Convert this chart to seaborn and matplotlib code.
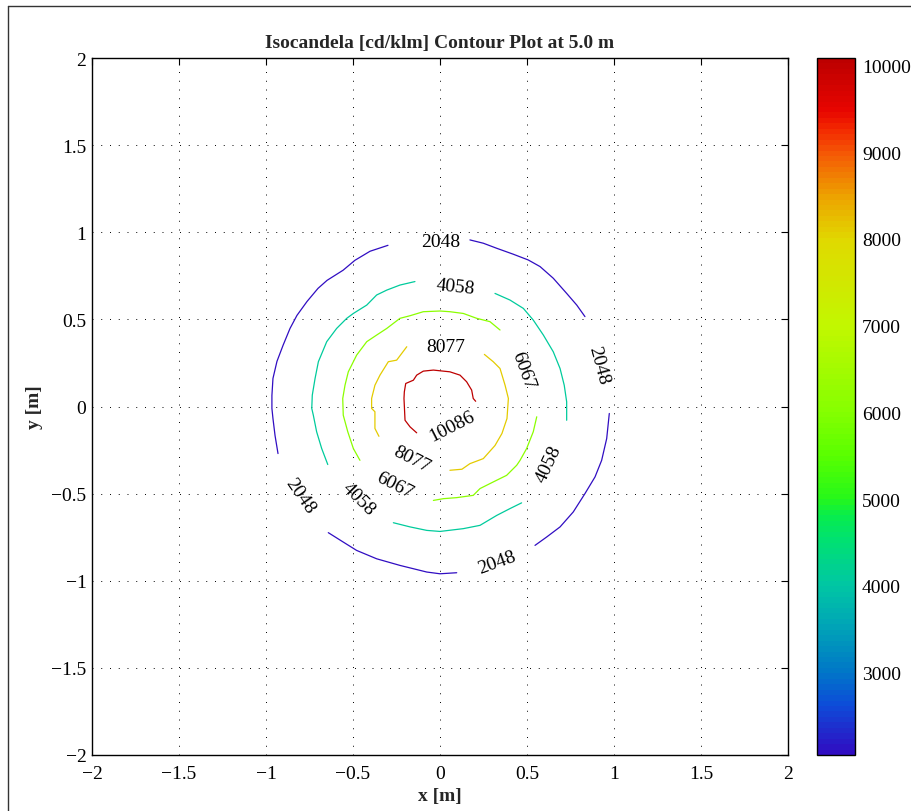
import numpy as np
import matplotlib
matplotlib.use("Agg")
import matplotlib.pyplot as plt
from matplotlib.colors import LinearSegmentedColormap, Normalize
from matplotlib.lines import Line2D
import seaborn as sns

# ---------------- data ----------------
LEVELS = [2048, 4058, 6067, 8077, 10086]
TITLE = "Isocandela [cd/klm] Contour Plot at 5.0 m"
XTICKS = [-2, -1.5, -1, -0.5, 0, 0.5, 1, 1.5, 2]
YTICKS = [-2, -1.5, -1, -0.5, 0, 0.5, 1, 1.5, 2]
CBAR_TICKS = [3000, 4000, 5000, 6000, 7000, 8000, 9000, 10000]

# contour segments (x, y) per level
SEG_2048 = [
    [(-0.299, 0.925), (-0.402, 0.891), (-0.489, 0.839), (-0.557, 0.782), (-0.649, 0.724),
     (-0.701, 0.678), (-0.764, 0.603), (-0.822, 0.523), (-0.862, 0.448), (-0.902, 0.351),
     (-0.937, 0.259), (-0.960, 0.161), (-0.966, 0.063), (-0.966, -0.011), (-0.960, -0.069),
     (-0.948, -0.167), (-0.931, -0.270)],
    [(0.172, 0.956), (0.249, 0.937), (0.326, 0.908), (0.421, 0.874), (0.507, 0.841),
     (0.575, 0.803), (0.651, 0.736), (0.728, 0.649), (0.786, 0.582), (0.833, 0.516)],
    [(0.973, -0.040), (0.958, -0.184), (0.929, -0.309), (0.891, -0.404), (0.833, -0.500),
     (0.766, -0.605), (0.690, -0.691), (0.613, -0.749), (0.546, -0.797)],
    [(0.096, -0.954), (0.000, -0.960), (-0.076, -0.950), (-0.230, -0.912), (-0.364, -0.874),
     (-0.479, -0.826), (-0.556, -0.778), (-0.642, -0.724)],
]
SEG_4058 = [
    [(-0.144, 0.717), (-0.230, 0.697), (-0.306, 0.668), (-0.364, 0.640), (-0.421, 0.582),
     (-0.498, 0.534), (-0.536, 0.506), (-0.594, 0.448), (-0.651, 0.372), (-0.699, 0.257),
     (-0.718, 0.161), (-0.734, 0.065), (-0.737, -0.011), (-0.728, -0.050), (-0.709, -0.145),
     (-0.680, -0.241), (-0.645, -0.333)],
    [(0.316, 0.649), (0.402, 0.611), (0.479, 0.563), (0.536, 0.496), (0.594, 0.410),
     (0.651, 0.314), (0.690, 0.218), (0.714, 0.122), (0.728, 0.027), (0.728, -0.079)],
    [(0.469, -0.553), (0.402, -0.586), (0.326, -0.625), (0.230, -0.682), (0.134, -0.701),
     (0.000, -0.717), (-0.076, -0.711), (-0.172, -0.691), (-0.268, -0.667)],
]
SEG_6067 = [
    [(0.345, 0.439), (0.287, 0.487), (0.211, 0.506), (0.134, 0.534), (0.057, 0.544),
     (0.000, 0.548), (-0.096, 0.544), (-0.172, 0.521), (-0.230, 0.506), (-0.268, 0.477),
     (-0.306, 0.448), (-0.364, 0.410), (-0.421, 0.372), (-0.479, 0.295), (-0.527, 0.199),
     (-0.546, 0.122), (-0.559, 0.046), (-0.556, -0.050), (-0.530, -0.145), (-0.498, -0.241),
     (-0.460, -0.309)],
    [(0.556, -0.059), (0.536, -0.145), (0.498, -0.241), (0.460, -0.309), (0.441, -0.337),
     (0.383, -0.395), (0.306, -0.433), (0.230, -0.471), (0.191, -0.510), (0.096, -0.523),
     (0.019, -0.529), (-0.038, -0.539)],
]
SEG_8077 = [
    [(-0.191, 0.343), (-0.249, 0.266), (-0.297, 0.257), (-0.345, 0.180), (-0.374, 0.122),
     (-0.393, 0.046), (-0.393, -0.011), (-0.374, -0.030), (-0.374, -0.126), (-0.351, -0.171)],
    [(0.255, 0.299), (0.306, 0.257), (0.345, 0.218), (0.374, 0.122), (0.393, 0.046),
     (0.385, -0.069), (0.356, -0.155), (0.316, -0.224), (0.249, -0.299), (0.172, -0.328),
     (0.126, -0.360), (0.057, -0.366)],
]
SEG_10086 = [
    [(-0.134, -0.151), (-0.172, -0.117), (-0.201, -0.079), (-0.207, 0.046), (-0.205, 0.084),
     (-0.197, 0.132), (-0.153, 0.151), (-0.134, 0.180), (-0.096, 0.203), (-0.038, 0.209),
     (0.057, 0.199), (0.115, 0.180), (0.153, 0.142), (0.182, 0.094), (0.191, 0.046),
     (0.205, 0.030)],
]
SEGMENTS = [SEG_2048, SEG_4058, SEG_6067, SEG_8077, SEG_10086]

# contour labels: text, x, y, rotation
LABEL_TEXT = ["2048", "4058", "8077", "6067", "2048", "10086", "8077", "6067",
              "4058", "2048", "4058", "2048"]
LABEL_X = [0.006, 0.086, 0.034, 0.475, 0.910, 0.069, -0.163, -0.259,
           -0.469, -0.805, 0.623, 0.326]
LABEL_Y = [0.948, 0.688, 0.345, 0.209, 0.238, -0.112, -0.299, -0.452,
           -0.529, -0.510, -0.328, -0.893]
LABEL_ROT = [0, -6, 0, -70, -75, 27, -27, -27, -45, -55, 65, 20]

# colormap anchors (value, colour)
CMAP_VALUES = [2048, 2600, 3000, 3500, 4000, 4500, 4800, 5000, 5500, 6000,
               7000, 8000, 8500, 9000, 9300, 9500, 10086]
CMAP_COLORS = [(0.19, 0.05, 0.76), (0.05, 0.30, 0.85), (0.00, 0.47, 0.78),
               (0.00, 0.64, 0.72), (0.00, 0.78, 0.64), (0.00, 0.88, 0.45),
               (0.03, 0.93, 0.30), (0.15, 0.97, 0.10), (0.35, 1.00, 0.00),
               (0.52, 1.00, 0.00), (0.76, 0.97, 0.00), (0.88, 0.85, 0.00),
               (0.93, 0.64, 0.00), (0.96, 0.35, 0.02), (0.95, 0.15, 0.00),
               (0.91, 0.02, 0.00), (0.74, 0.00, 0.00)]

# ---------------- style ----------------
sns.set_style("white")
plt.rcParams["font.family"] = ["Liberation Serif", "DejaVu Serif"]
plt.rcParams["font.size"] = 14
plt.rcParams["axes.unicode_minus"] = True

FS = 14
vmin, vmax = LEVELS[0], LEVELS[-1]
pos = [(v - vmin) / (vmax - vmin) for v in CMAP_VALUES]
cmap = LinearSegmentedColormap.from_list("isocd", list(zip(pos, CMAP_COLORS)), N=128)
norm = Normalize(vmin=vmin, vmax=vmax)

fig = plt.figure(figsize=(9.12, 8.12), dpi=100)
W, H = 912.0, 812.0
ax = fig.add_axes([92 / W, 1 - 756 / H, 696 / W, 697 / H])
cax = fig.add_axes([817 / W, 1 - 756 / H, 38 / W, 697 / H])

# contour lines
for lev, segs in zip(LEVELS, SEGMENTS):
    col = cmap(norm(lev))
    for seg in segs:
        xs = [p[0] for p in seg]
        ys = [p[1] for p in seg]
        sns.lineplot(x=xs, y=ys, sort=False, estimator=None, color=col,
                     linewidth=0.9, ax=ax, legend=False)

for t, x, y, r in zip(LABEL_TEXT, LABEL_X, LABEL_Y, LABEL_ROT):
    ax.text(x, y, t, rotation=r, ha="center", va="center", fontsize=FS,
            rotation_mode="anchor", color="black")

ax.set_xlim(-2, 2)
ax.set_ylim(-2, 2)
ax.set_xticks(XTICKS)
ax.set_yticks(YTICKS)
ax.set_xticklabels([f"{v:g}".replace("-", "\u2212") for v in XTICKS])
ax.set_yticklabels([f"{v:g}".replace("-", "\u2212") for v in YTICKS])
ax.grid(True, color="black", linestyle=(0, (1, 8)), linewidth=0.7)
ax.tick_params(direction="in", length=5, width=0.8, top=True, right=True,
               labelsize=FS, colors="black")
ax.tick_params(axis="x", pad=7.5)
ax.tick_params(axis="y", pad=4)
for s in ax.spines.values():
    s.set_color("black")
    s.set_linewidth(1.0)
ax.set_title(TITLE, fontsize=FS, fontweight="bold", pad=8)
ax.set_xlabel("x [m]", fontsize=FS, fontweight="bold", labelpad=3.5)
ax.set_ylabel("y [m]", fontsize=FS, fontweight="bold", labelpad=6)

# colour bar
sm = plt.cm.ScalarMappable(norm=norm, cmap=cmap)
cb = fig.colorbar(sm, cax=cax)
cb.set_ticks(CBAR_TICKS)
cb.set_ticklabels([str(v) for v in CBAR_TICKS])
cax.tick_params(direction="in", length=5, width=0.8, left=True, right=True,
                labelsize=FS, pad=5, colors="black")
cb.outline.set_linewidth(1.0)
cb.outline.set_edgecolor("black")

# figure frame
fig.add_artist(Line2D([8 / W, 8 / W], [0, 1 - 7 / H], color="#333333", linewidth=1.0))
fig.add_artist(Line2D([8 / W, 1], [1 - 7 / H, 1 - 7 / H], color="#333333", linewidth=1.0))

fig.savefig("out.png", dpi=100)
